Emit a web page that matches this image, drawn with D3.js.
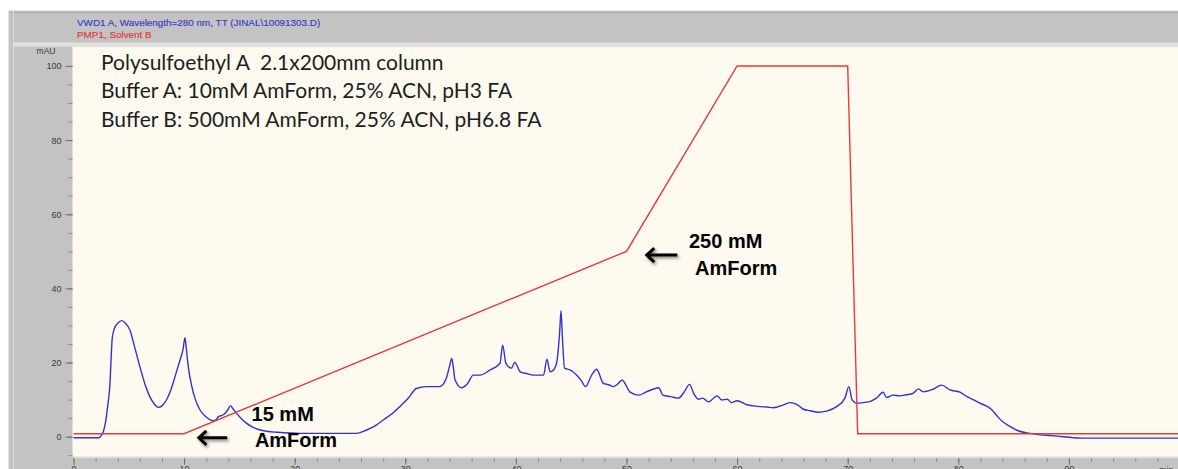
<!DOCTYPE html>
<html>
<head>
<meta charset="utf-8">
<script src="https://cdn.jsdelivr.net/npm/d3@7"></script>
<style>
  html, body { margin: 0; padding: 0; background: #ffffff; }
  svg { display: block; }
  text { white-space: pre; }
</style>
</head>
<body>
<svg id="chart" width="1178" height="469"></svg>
<script>
// ---- detector trace (VWD1 A, 280 nm) : retention time (min) and absorbance (mAU)
const traceTime = [
  0, 2.3, 2.5, 2.7, 2.9, 3.1, 3.3, 3.4, 3.5, 3.7, 4.0, 4.36, 4.7, 5.1, 5.5, 6.0, 6.5, 6.9, 7.3, 7.67,
  8.0, 8.4, 8.8, 9.18, 9.63, 9.9, 10.08, 10.2, 10.35, 10.7, 11.0, 11.44, 12.0, 12.64, 12.9, 13.1, 13.55,
  13.9, 14.2, 14.45, 14.75, 15.2, 15.66, 16.2, 16.9, 17.6, 18.4, 20.5, 25.6, 26.5, 27.3, 28.0, 28.8,
  29.5, 30.3, 31.0, 31.9, 33.1, 33.7, 34.0, 34.2, 34.35, 34.5, 35.1, 35.6, 36.15, 36.75, 37.66, 38.56,
  38.8, 39.1, 39.6, 39.9, 40.4, 41.0, 41.6, 42.5, 42.8, 43.1, 43.4, 43.7, 43.95, 44.08, 44.2, 44.4,
  44.9, 45.5, 45.9, 46.3, 46.85, 47.3, 47.9, 48.4, 48.8, 49.2, 49.6, 50.3, 51.1, 51.8, 52.4, 52.9,
  53.3, 54.0, 54.7, 55.2, 55.7, 56.1, 56.5, 56.9, 57.4, 58.2, 58.6, 59.1, 59.5, 60.0, 60.9, 61.5,
  62.1, 62.7, 63.3, 64.2, 64.8, 65.4, 66.0, 66.6, 67.35, 68.1, 69.0, 69.75, 70.1, 70.4, 70.8, 71.4,
  71.9, 72.6, 73.2, 73.5, 74.1, 74.7, 75.3, 75.9, 76.4, 76.8, 77.7, 78.5, 79.25, 80.15, 80.8, 81.4,
  82.0, 82.9, 83.4, 83.8, 84.7, 85.4, 86.5, 87.4, 88.3, 89.5, 91.3, 100
];
const traceMAU = [
  -0.3, -0.3, 0.3, 1.4, 4.0, 8.5, 14.4, 21.0, 26.5, 29.2, 30.6, 31.3, 30.6, 28.8, 24.5, 18.9, 13.8, 10.8, 8.8, 7.9,
  8.3, 9.9, 12.6, 16.2, 20.7, 23.5, 26.7, 23.8, 19.5, 13.5, 10.2, 7.2, 5.3, 4.3, 4.6, 5.4, 5.9,
  7.0, 8.3, 7.4, 6.3, 4.8, 3.6, 2.6, 1.8, 1.4, 1.2, 0.9, 0.9, 1.8, 3.0, 4.5, 6.2,
  8.1, 10.5, 13.0, 13.5, 13.5, 15.7, 19.0, 21.1, 18.5, 15.3, 13.2, 14.2, 16.6, 16.6, 18.0, 19.8,
  24.7, 19.8, 18.5, 20.0, 17.5, 17.0, 16.6, 16.6, 20.9, 17.5, 18.0, 20.2, 28.0, 34.0, 27.0, 18.5,
  18.0, 16.6, 15.2, 13.5, 16.6, 18.2, 14.4, 14.0, 13.5, 14.2, 15.3, 12.1, 11.2, 12.1, 12.8, 13.2,
  11.2, 10.8, 10.4, 12.0, 14.1, 11.5, 10.1, 10.4, 9.4, 11.0, 9.9, 10.1, 9.2, 9.7, 8.6, 8.3,
  8.1, 8.0, 7.8, 8.6, 9.2, 8.7, 7.4, 7.0, 6.6, 6.9, 8.1, 10.4, 13.5, 9.9, 9.0, 9.2,
  9.4, 10.4, 12.0, 10.6, 11.2, 11.0, 11.3, 11.7, 12.9, 12.1, 12.8, 13.9, 12.6, 12.0, 10.8, 9.9,
  9.0, 7.6, 6.0, 4.6, 2.7, 1.6, 0.9, 0.5, 0.3, 0.0, -0.4, -0.4
];

// ---- pump gradient (PMP1, Solvent B, %)
const gradTime = [0, 10, 50, 60, 70, 70.9, 100];
const gradPctB = [0.8, 0.8, 50, 100, 100, 0.8, 0.8];

// ---- axis ticks
const xMajorTicks = [0, 10, 20, 30, 40, 50, 60, 70, 80, 90];
const xMinorTicks = d3.range(0, 100, 2);
const yMajorTicks = [0, 20, 40, 60, 80, 100];
const yMinorTicks = d3.range(-5, 105, 5);

// ---- text
const headerLines = ["VWD1 A, Wavelength=280 nm, TT (JINAL\\10091303.D)", "PMP1, Solvent B"];
const methodLines = [
  "Polysulfoethyl A  2.1x200mm column",
  "Buffer A: 10mM AmForm, 25% ACN, pH3 FA",
  "Buffer B: 500mM AmForm, 25% ACN, pH6.8 FA"
];
// callouts: arrow from tailT to tipT at value v, label lines anchored at (t, v)
const callouts = [
  { tipT: 51.7, tailT: 54.6, v: 49.0, lines: [["250 mM", 55.65, 50.9], ["AmForm", 56.2, 43.6]] },
  { tipT: 11.2, tailT: 13.9, v: -0.3, lines: [["15 mM", 16.1, 4.2], ["AmForm", 16.4, -2.7]] }
];

const W = 1178, H = 469;
const plot = { left: 72.5, top: 46.7, right: 1178, bottom: 456.7 };

const x = d3.scaleLinear().domain([0, 100]).range([73.5, 1179.5]);
const y = d3.scaleLinear().domain([-5.4, 105.2]).range([plot.bottom, plot.top]);

const svg = d3.select("#chart");
const defs = svg.append("defs");
defs.append("clipPath").attr("id", "plotClip")
  .append("rect")
  .attr("x", plot.left).attr("y", plot.top)
  .attr("width", plot.right - plot.left).attr("height", plot.bottom - plot.top);
const shadow = defs.append("filter").attr("id", "arrowShadow")
  .attr("x", "-30%").attr("y", "-60%").attr("width", "160%").attr("height", "220%");
shadow.append("feDropShadow")
  .attr("dx", 1.5).attr("dy", 2).attr("stdDeviation", 1.4)
  .attr("flood-color", "#000").attr("flood-opacity", 0.45);

// window frame
svg.append("rect").attr("x", 8).attr("y", 10).attr("width", W - 8).attr("height", H - 10)
  .attr("fill", "#c3c3c3");
svg.append("line").attr("x1", 8).attr("x2", W).attr("y1", 10.5).attr("y2", 10.5)
  .attr("stroke", "#e6e6e6");
svg.append("line").attr("x1", 8).attr("x2", W).attr("y1", 12.5).attr("y2", 12.5)
  .attr("stroke", "#a9a9a9");
svg.append("line").attr("x1", 8.5).attr("x2", 8.5).attr("y1", 10).attr("y2", H)
  .attr("stroke", "#e4e4e4");
svg.append("line").attr("x1", 13.5).attr("x2", 13.5).attr("y1", 10).attr("y2", H)
  .attr("stroke", "#dadada");
svg.append("rect").attr("x", 14).attr("y", 42.5).attr("width", W - 14).attr("height", 4)
  .attr("fill", "#e2e2e2");

// header
const header = svg.append("g").attr("font-family", "'Liberation Sans', Arial, sans-serif")
  .attr("font-size", 9.9);
header.append("text").attr("x", 77).attr("y", 26).attr("fill", "#3737cc")
  .attr("stroke", "#3737cc").attr("stroke-width", 0.15).text(headerLines[0]);
header.append("text").attr("x", 77).attr("y", 37.5).attr("fill", "#e03636")
  .attr("stroke", "#e03636").attr("stroke-width", 0.15).text(headerLines[1]);

// plot background
svg.append("rect")
  .attr("x", plot.left).attr("y", plot.top)
  .attr("width", plot.right - plot.left).attr("height", plot.bottom - plot.top)
  .attr("fill", "#fffaef");

// y axis
const yAxisG = svg.append("g").attr("transform", `translate(${plot.left},0)`);
yAxisG.append("g")
  .call(d3.axisLeft(y).tickValues(yMinorTicks).tickSize(4).tickFormat(""))
  .call(g => g.select(".domain").remove())
  .call(g => g.selectAll("line").attr("stroke", "#8a8a8a"));
yAxisG.append("g")
  .call(d3.axisLeft(y).tickValues(yMajorTicks).tickSize(7).tickPadding(4).tickFormat(d3.format("d")))
  .call(g => g.select(".domain").remove())
  .call(g => g.selectAll("line").attr("stroke", "#6e6e6e"))
  .call(g => g.selectAll("text").attr("fill", "#3a3a3a")
    .attr("font-family", "'Liberation Sans', Arial, sans-serif").attr("font-size", 9));
svg.append("text").attr("x", 46).attr("y", 53.5).attr("text-anchor", "middle")
  .attr("font-family", "'Liberation Sans', Arial, sans-serif").attr("font-size", 8.5)
  .attr("fill", "#3a3a3a").text("mAU");

// x axis
const xAxisG = svg.append("g").attr("transform", `translate(0,${plot.bottom + 1})`);
svg.append("line").attr("x1", plot.left).attr("x2", W)
  .attr("y1", plot.bottom + 1).attr("y2", plot.bottom + 1).attr("stroke", "#e6e6e6");
xAxisG.append("g")
  .call(d3.axisBottom(x).tickValues(xMinorTicks).tickSize(4).tickFormat(""))
  .call(g => g.select(".domain").remove())
  .call(g => g.selectAll("line").attr("stroke", "#8a8a8a"));
xAxisG.append("g")
  .call(d3.axisBottom(x).tickValues(xMajorTicks).tickSize(7).tickPadding(1).tickFormat(d3.format("d")))
  .call(g => g.select(".domain").remove())
  .call(g => g.selectAll("line").attr("stroke", "#6e6e6e"))
  .call(g => g.selectAll("text").attr("fill", "#3a3a3a")
    .attr("font-family", "'Liberation Sans', Arial, sans-serif").attr("font-size", 9));
svg.append("text").attr("x", x(98.8)).attr("y", plot.bottom + 16).attr("text-anchor", "middle")
  .attr("font-family", "'Liberation Sans', Arial, sans-serif").attr("font-size", 9)
  .attr("fill", "#3a3a3a").text("min");

// traces
const traces = svg.append("g").attr("clip-path", "url(#plotClip)");
const gradient = d3.zip(gradTime, gradPctB);
const trace = d3.zip(traceTime, traceMAU);

traces.append("path").datum(trace)
  .attr("fill", "none").attr("stroke", "#3232cf").attr("stroke-width", 1.4)
  .attr("stroke-linejoin", "round")
  .attr("d", d3.line().x(d => x(d[0])).y(d => y(d[1])).curve(d3.curveMonotoneX));

traces.append("path").datum(gradient)
  .attr("fill", "none").attr("stroke", "#e8393b").attr("stroke-width", 1.4)
  .attr("d", d3.line().x(d => x(d[0])).y(d => y(d[1])));

// method description
const method = svg.append("g").attr("font-family", "Lato, 'Open Sans', sans-serif")
  .attr("font-size", 21).attr("fill", "#1e1e1e");
methodLines.forEach((s, i) => {
  method.append("text").attr("x", 101).attr("y", 70 + i * 28.3)
    .attr("xml:space", "preserve").text(s);
});

// callouts
const notes = svg.append("g");
callouts.forEach(c => {
  const yy = y(c.v), tip = x(c.tipT), tail = x(c.tailT);
  notes.append("path")
    .attr("d", `M${tail},${yy}L${tip + 1},${yy}M${tip + 9},${yy - 7}L${tip + 1.5},${yy}L${tip + 9},${yy + 7}`)
    .attr("fill", "none").attr("stroke", "#000").attr("stroke-width", 3)
    .attr("stroke-linecap", "butt").attr("filter", "url(#arrowShadow)");
  c.lines.forEach(([s, t, v]) => {
    notes.append("text").attr("x", x(t)).attr("y", y(v))
      .attr("font-family", "'Liberation Sans', Arial, sans-serif")
      .attr("font-weight", "bold").attr("font-size", 20).attr("fill", "#000")
      .text(s);
  });
});
</script>
</body>
</html>
